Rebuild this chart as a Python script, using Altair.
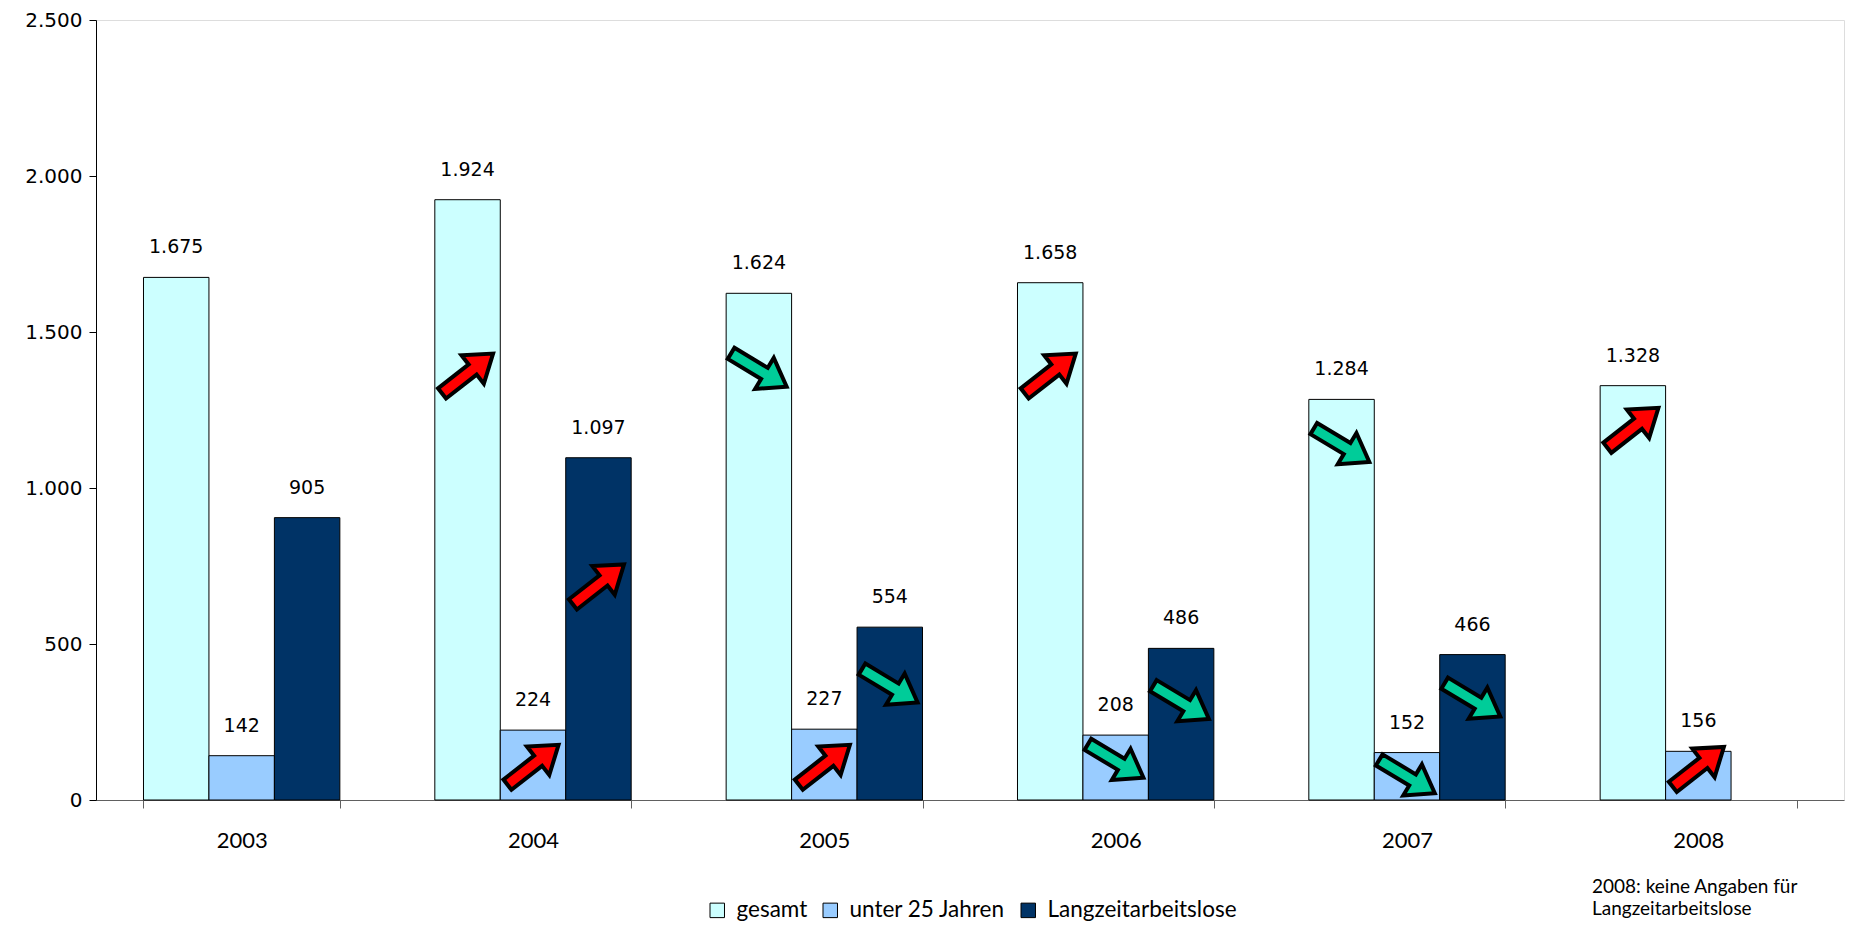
import altair as alt
import pandas as pd

years = ["2003", "2004", "2005", "2006", "2007", "2008"]
series = ["gesamt", "unter 25 Jahren", "Langzeitarbeitslose"]
gesamt = [1675, 1924, 1624, 1658, 1284, 1328]
unter25 = [142, 224, 227, 208, 152, 156]
langzeit = [905, 1097, 554, 486, 466, None]  # 2008: keine Angaben
colors = ["#CCFFFF", "#99CCFF", "#003366"]

# trend arrows (year, series, direction, vertical position in data units)
arrow_year = ["2004", "2004", "2004", "2005", "2005", "2005", "2006", "2006", "2006",
              "2007", "2007", "2007", "2008", "2008"]
arrow_series = ["gesamt", "unter 25 Jahren", "Langzeitarbeitslose"] * 4 + ["gesamt", "unter 25 Jahren"]
arrow_dir = ["up", "up", "up", "down", "up", "down", "up", "down", "down",
             "down", "down", "down", "up", "up"]
arrow_pos = [1367, 113, 691, 1378, 113, 366, 1367, 125, 313, 1137, 75, 321, 1193, 106]

note = "2008: keine Angaben für\nLangzeitarbeitslose"

rows = []
for i, y in enumerate(years):
    for s, vals in zip(series, [gesamt, unter25, langzeit]):
        v = vals[i]
        if v is None:
            continue
        rows.append({"year": y, "series": s, "value": v,
                     "label": f"{v:,}".replace(",", ".")})
df = pd.DataFrame(rows)

arrows = pd.DataFrame({"year": arrow_year, "series": arrow_series,
                       "dir": arrow_dir, "pos": arrow_pos})

ARROW = "M -1 -0.2 L 0.2 -0.2 L 0.2 -0.56 L 1 0 L 0.2 0.56 L 0.2 0.2 L -1 0.2 Z"

x_enc = alt.X("year:N", sort=years,
              scale=alt.Scale(domain=years, paddingInner=0.326, paddingOuter=0.163),
              axis=alt.Axis(title=None, labelAngle=0, tickBand="extent", ticks=True,
                            tickSize=8, tickColor="#606060", domainColor="#606060",
                            labelFont="Lato", labelFontSize=22, labelColor="black",
                            labelPadding=22, grid=False))
xo_enc = alt.XOffset("series:N", sort=series,
                     scale=alt.Scale(domain=series, paddingInner=0, paddingOuter=0))
y_scale = alt.Scale(domain=[0, 2500], nice=False)

base = alt.Chart(df)

bars = base.mark_bar(stroke="black", strokeWidth=1).encode(
    x=x_enc,
    xOffset=xo_enc,
    y=alt.Y("value:Q", scale=y_scale,
            axis=alt.Axis(title=None, values=[0, 500, 1000, 1500, 2000, 2500],
                          labelExpr="replace(format(datum.value, ','), ',', '.')",
                          grid=False, tickSize=7, tickColor="black", domainColor="black",
                          labelFont="DejaVu Sans", labelFontSize=20, labelColor="black",
                          labelPadding=7)),
    color=alt.Color("series:N", sort=series,
                    scale=alt.Scale(domain=series, range=colors),
                    legend=alt.Legend(orient="none", legendX=610, legendY=879,
                                      direction="horizontal", title=None,
                                      symbolType="square", symbolSize=210,
                                      symbolStrokeColor="black", symbolStrokeWidth=1,
                                      symbolOpacity=1,
                                      labelFont="Lato", labelFontSize=22.5,
                                      labelColor="black", labelOffset=8,
                                      labelLimit=400, columnPadding=11)),
)

labels = base.mark_text(dy=-30, baseline="middle", font="DejaVu Sans",
                        fontSize=19, color="black").encode(
    x=alt.X("year:N", sort=years),
    xOffset=alt.XOffset("series:N", sort=series),
    y=alt.Y("value:Q"),
    text="label:N",
)

arrow_layer = alt.Chart(arrows).transform_calculate(
    ang="datum.dir == 'up' ? 322 : 31",
    col="datum.dir == 'up' ? '#FF0000' : '#00CC99'",
).mark_point(shape=ARROW, filled=True, stroke="black", strokeWidth=4,
             size=4200, opacity=1, strokeJoin="miter").encode(
    x=alt.X("year:N", sort=years),
    xOffset=alt.XOffset("series:N", sort=series),
    y=alt.Y("pos:Q"),
    angle=alt.Angle("ang:Q", scale=None),
    fill=alt.Fill("col:N", scale=None),
)

note_layer = alt.Chart(pd.DataFrame({"t": [note]})).mark_text(
    align="left", baseline="middle", font="Lato", fontSize=19, color="black",
    lineBreak="\n", lineHeight=22,
).encode(text="t:N", x=alt.value(1496), y=alt.value(867))

chart = alt.layer(bars, labels, arrow_layer, note_layer).properties(
    width=1748, height=780,
    padding={"left": 88, "top": 12, "right": 2, "bottom": 122},
    autosize=alt.AutoSizeParams(type="none"),
).configure_view(stroke=None).configure(background="white")

chart.save("out.html", embed_options={"renderer": "svg", "actions": False})
